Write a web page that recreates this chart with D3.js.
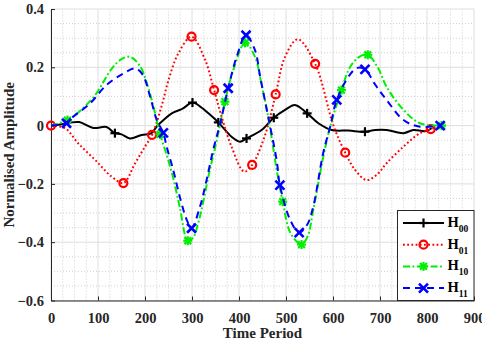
<!DOCTYPE html>
<html>
<head>
<meta charset="utf-8">
<script src="https://cdn.jsdelivr.net/npm/d3@7"></script>
<style>
  html, body { margin: 0; padding: 0; background: #fff; }
  svg { display: block; }
</style>
</head>
<body>
<div id="chart"></div>
<script>
// [time, amplitude] pairs
const h00 = [[0,0],[20,0.004],[40,0.01],[60,0.012],[90,-0.008],[118,-0.005],[136,-0.026],[150,-0.03],[168,-0.044],[193,-0.032],[214,-0.026],[225,-0.003],[240,0.02],[257,0.042],[280,0.058],[301,0.079],[320,0.062],[335,0.042],[356,0.011],[384,-0.038],[402,-0.055],[416,-0.044],[448,-0.015],[474,0.027],[498,0.054],[519,0.071],[545,0.042],[569,0.008],[597,-0.015],[633,-0.017],[668,-0.021],[690,-0.015],[714,-0.015],[750,-0.026],[771,-0.015],[796,-0.019],[810,-0.009]];
const h01 = [[0,0],[30,-0.009],[58,-0.061],[94,-0.118],[129,-0.175],[154,-0.197],[179,-0.129],[200,-0.072],[215,-0.032],[235,0.065],[250,0.156],[271,0.248],[299,0.305],[328,0.225],[347,0.122],[363,0.031],[384,-0.072],[411,-0.158],[428,-0.135],[455,-0.035],[478,0.107],[498,0.236],[525,0.296],[562,0.212],[601,0],[626,-0.093],[647,-0.152],[672,-0.187],[696,-0.164],[714,-0.129],[750,-0.072],[785,-0.026],[808,-0.012],[815,-0.008]];
const h10 = [[0,0],[35,0.019],[58,0.045],[94,0.105],[129,0.195],[150,0.228],[168,0.236],[189,0.205],[204,0.145],[218,0.065],[228,-0.004],[232,-0.03],[246,-0.1],[260,-0.18],[274,-0.28],[291,-0.395],[302,-0.385],[314,-0.33],[338,-0.152],[353,-0.049],[370,0.082],[388,0.191],[413,0.284],[434,0.236],[448,0.14],[462,0.031],[480,-0.15],[493,-0.261],[510,-0.37],[533,-0.408],[546,-0.38],[558,-0.29],[579,-0.11],[594,-0.004],[618,0.122],[636,0.2],[655,0.235],[674,0.243],[695,0.2],[714,0.133],[750,0.054],[785,0.008],[831,0]];
const h11 = [[0,0],[33,0.008],[47,0.03],[83,0.076],[118,0.139],[154,0.179],[180,0.196],[195,0.175],[211,0.099],[225,0.019],[239,-0.025],[246,-0.072],[260,-0.152],[274,-0.244],[289,-0.324],[299,-0.352],[317,-0.278],[331,-0.187],[345,-0.084],[360,0.008],[377,0.128],[395,0.236],[415,0.31],[434,0.259],[445,0.168],[462,0.031],[480,-0.118],[487,-0.204],[509,-0.324],[528,-0.367],[545,-0.34],[558,-0.278],[579,-0.095],[594,-0.004],[608,0.088],[636,0.175],[652,0.198],[668,0.193],[690,0.14],[714,0.088],[750,0.019],[785,-0.004],[828,0]];

// marker positions
const h00Marks = [[136,-0.026],[301,0.079],[356,0.011],[416,-0.044],[474,0.027],[545,0.042],[668,-0.021]];
const h01Marks = [[0,0],[154,-0.197],[215,-0.032],[299,0.305],[347,0.122],[428,-0.135],[478,0.107],[562,0.212],[626,-0.093],[808,-0.012]];
const h10Marks = [[35,0.019],[232,-0.03],[291,-0.395],[370,0.082],[413,0.284],[493,-0.261],[533,-0.408],[618,0.122],[674,0.243],[831,0]];
const h11Marks = [[33,0.008],[239,-0.025],[299,-0.352],[377,0.128],[415,0.31],[487,-0.204],[528,-0.367],[608,0.088],[668,0.193],[828,0]];

const seriesNames = ['00', '01', '10', '11'];
const xTicks = [0, 100, 200, 300, 400, 500, 600, 700, 800, 900];
const yTicks = [-0.6, -0.4, -0.2, 0, 0.2, 0.4];

const width = 482;
const height = 340;
const margin = { top: 9, right: 8, bottom: 39.5, left: 51 };
const fontFamily = '"Liberation Serif", "Times New Roman", serif';

const svg = d3.select('#chart').append('svg').attr('width', width).attr('height', height);

const x = d3.scaleLinear().domain([0, 900]).range([margin.left, width - margin.right]);
const y = d3.scaleLinear().domain([-0.6, 0.4]).range([height - margin.bottom, margin.top]);

const series = [
  { key: '00', data: h00, marks: h00Marks, color: '#000000', dash: null, marker: 'plus' },
  { key: '01', data: h01, marks: h01Marks, color: '#ff0000', dash: '1.8,2.4', marker: 'circle' },
  { key: '10', data: h10, marks: h10Marks, color: '#00ee00', dash: '7,2.5,1.8,2.5', marker: 'star' },
  { key: '11', data: h11, marks: h11Marks, color: '#0000ff', dash: '7,5', marker: 'cross' }
];

// grid
const grid = svg.append('g');
const minorX = d3.range(0, 901, 25).filter(v => v % 100 !== 0);
const minorY = d3.range(-0.6, 0.401, 0.05).filter(v => Math.abs(Math.round(v * 5) - v * 5) > 1e-6);

grid.selectAll('.mx').data(minorX).join('line')
  .attr('x1', d => x(d)).attr('x2', d => x(d))
  .attr('y1', y(-0.6)).attr('y2', y(0.4))
  .attr('stroke', '#c4c4c4').attr('stroke-width', 0.8).attr('stroke-dasharray', '1,2');
grid.selectAll('.my').data(minorY).join('line')
  .attr('y1', d => y(d)).attr('y2', d => y(d))
  .attr('x1', x(0)).attr('x2', x(900))
  .attr('stroke', '#c4c4c4').attr('stroke-width', 0.8).attr('stroke-dasharray', '1,2');
grid.selectAll('.gx').data(xTicks).join('line')
  .attr('x1', d => x(d)).attr('x2', d => x(d))
  .attr('y1', y(-0.6)).attr('y2', y(0.4))
  .attr('stroke', '#dedede').attr('stroke-width', 1);
grid.selectAll('.gy').data(yTicks).join('line')
  .attr('y1', d => y(d)).attr('y2', d => y(d))
  .attr('x1', x(0)).attr('x2', x(900))
  .attr('stroke', '#dedede').attr('stroke-width', 1);

// axes
const xAxis = d3.axisBottom(x).tickValues(xTicks).tickFormat(d3.format('d')).tickSizeInner(-4).tickSizeOuter(0).tickPadding(12);
const yAxis = d3.axisLeft(y).tickValues(yTicks).tickFormat(d => d === 0 ? '0' : d3.format('.1f')(d)).tickSizeInner(-4).tickSizeOuter(0).tickPadding(7);

[svg.append('g').attr('transform', `translate(0,${y(-0.6)})`).call(xAxis),
 svg.append('g').attr('transform', `translate(${x(0)},0)`).call(yAxis)].forEach(g => {
  g.select('.domain').attr('stroke', '#262626').attr('stroke-width', 1);
  g.selectAll('.tick line').attr('stroke', '#262626');
  g.selectAll('.tick text')
    .attr('fill', '#262626')
    .attr('font-family', fontFamily)
    .attr('font-weight', 'bold')
    .attr('font-size', '14.5px');
});

svg.append('text')
  .attr('x', (x(0) + x(900)) / 2).attr('y', 338)
  .attr('text-anchor', 'middle')
  .attr('font-family', fontFamily).attr('font-weight', 'bold').attr('font-size', '15px')
  .attr('fill', '#262626')
  .text('Time Period');

svg.append('text')
  .attr('transform', `translate(13.5,${(y(-0.6) + y(0.4)) / 2}) rotate(-90)`)
  .attr('text-anchor', 'middle')
  .attr('font-family', fontFamily).attr('font-weight', 'bold').attr('font-size', '15px')
  .attr('fill', '#262626')
  .text('Normalised Amplitude');

// markers
function drawMarker(g, type, cx, cy, color) {
  const s = 4.5;
  if (type === 'circle') {
    g.append('circle').attr('cx', cx).attr('cy', cy).attr('r', 4)
      .attr('fill', 'none').attr('stroke', color).attr('stroke-width', 2.2);
    return;
  }
  const segs = [];
  if (type === 'plus' || type === 'star') segs.push([-s, 0, s, 0], [0, -s, 0, s]);
  if (type === 'cross' || type === 'star') {
    const k = type === 'star' ? s * 0.75 : s;
    segs.push([-k, -k, k, k], [-k, k, k, -k]);
  }
  segs.forEach(p => {
    g.append('line')
      .attr('x1', cx + p[0]).attr('y1', cy + p[1]).attr('x2', cx + p[2]).attr('y2', cy + p[3])
      .attr('stroke', color).attr('stroke-width', type === 'cross' ? 2.6 : 2.2);
  });
}

const line = d3.line().x(d => x(d[0])).y(d => y(d[1])).curve(d3.curveCatmullRom.alpha(0.5));

const plot = svg.append('g');
series.forEach(s => {
  const g = plot.append('g');
  g.append('path')
    .attr('d', line(s.data))
    .attr('fill', 'none')
    .attr('stroke', s.color)
    .attr('stroke-width', 2)
    .attr('stroke-dasharray', s.dash);
  s.marks.forEach(m => drawMarker(g, s.marker, x(m[0]), y(m[1]), s.color));
});

// legend
const legend = svg.append('g');
const lx = 397.5, ly = 210.5, lw = x(900) - 397.5, lh = y(-0.6) - 210.5;
legend.append('rect')
  .attr('x', lx).attr('y', ly).attr('width', lw).attr('height', lh)
  .attr('fill', '#fff').attr('stroke', '#262626').attr('stroke-width', 1);

series.forEach((s, i) => {
  const ry = 223 + i * 21.7;
  legend.append('line')
    .attr('x1', 403).attr('x2', 444).attr('y1', ry).attr('y2', ry)
    .attr('stroke', s.color).attr('stroke-width', 2).attr('stroke-dasharray', s.dash);
  drawMarker(legend, s.marker, 423.5, ry, s.color);
  const t = legend.append('text')
    .attr('x', 447.5).attr('y', ry + 4)
    .attr('font-family', fontFamily).attr('font-weight', 'bold').attr('font-size', '14.5px')
    .attr('fill', '#000');
  t.append('tspan').text('H');
  t.append('tspan').attr('dy', 5).attr('font-size', '9.5px').text(seriesNames[i]);
});
</script>
</body>
</html>
